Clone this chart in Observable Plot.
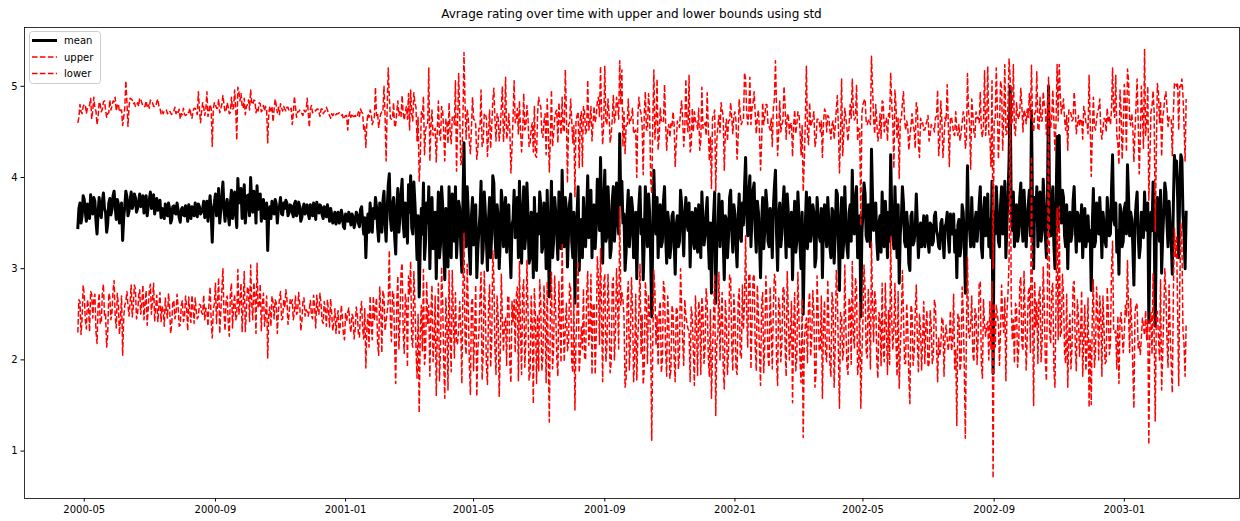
<!DOCTYPE html>
<html>
<head>
<meta charset="utf-8">
<script src="https://cdn.jsdelivr.net/npm/d3@7"></script>
<script src="https://cdn.jsdelivr.net/npm/@observablehq/plot@0.6"></script>
<style>
  body { margin: 0; background: #fff; font-family: "DejaVu Sans", sans-serif; }
  #wrap { position: relative; width: 1240px; height: 521px; overflow: hidden; }
  #title { position: absolute; left: 24px; width: 1215px; top: 7px; text-align: center; font-size: 12px; line-height: 14px; color: #000; }
  #legend { position: absolute; left: 29px; top: 31px; }
</style>
</head>
<body>
<div id="wrap">
  <div id="chart"></div>
  <div id="title">Avrage rating over time with upper and lower bounds using std</div>
  <svg id="legend" width="73" height="54"></svg>
</div>
<script>
// ---- data (values ×100, one point per day from 2000-04-25) ----
const startDate = "2000-04-25";
const stepDays = 1;

const meanRating = [
  345,366,372,350,358,380,376,362,352,371,368,355,381,368,360,378,374,352,338,362,
  378,360,356,374,383,366,362,340,349,372,377,359,365,380,385,368,354,376,371,350,
  360,372,331,356,368,385,379,358,363,375,384,366,370,382,378,362,366,374,382,368,
  372,380,361,370,380,358,369,376,384,366,374,381,360,368,377,364,368,375,356,366,
  362,355,371,364,358,372,366,350,354,368,369,361,360,372,364,356,351,365,367,359,
  358,369,363,352,370,364,355,368,365,358,372,363,357,371,368,360,362,366,374,356,
  366,374,352,368,380,360,329,365,372,382,358,370,388,350,364,378,395,366,352,370,
  376,359,348,372,386,355,368,384,360,345,399,372,374,388,355,368,392,350,366,380,
  381,358,400,372,362,385,378,350,391,365,370,382,352,368,376,355,364,372,320,360,
  368,355,374,362,360,376,371,350,365,368,378,360,359,372,366,375,372,358,361,370,
  369,362,357,371,374,358,362,373,368,352,356,366,371,360,364,370,360,355,370,364,
  358,372,366,354,373,365,361,370,368,359,355,368,364,357,370,362,352,366,360,350,
  356,362,349,358,362,350,353,364,358,346,344,360,355,352,362,355,348,360,357,345,
  351,362,359,350,346,365,368,352,338,356,312,348,360,340,372,355,340,366,355,378,
  368,345,330,372,362,340,374,385,350,330,365,392,404,355,342,370,378,335,316,368,
  388,340,358,382,398,350,335,372,370,328,392,362,402,345,338,395,372,345,310,358,
  269,324,366,338,394,310,330,372,350,390,300,354,378,322,336,362,289,342,384,312,
  326,390,370,324,288,366,350,302,390,338,312,382,358,330,390,312,338,374,366,324,
  296,372,438,350,324,390,362,318,294,358,378,326,348,370,290,322,342,360,396,306,
  322,384,362,330,298,354,378,312,338,402,394,338,312,370,358,300,330,386,372,324,
  350,378,318,360,370,324,290,348,354,386,334,366,378,312,396,342,306,362,390,322,
  338,394,360,306,312,362,348,290,378,336,298,360,338,384,370,318,324,372,358,300,
  386,330,269,350,396,312,330,378,362,338,310,384,350,322,408,348,324,378,366,302,
  338,372,382,330,312,362,262,342,360,390,298,336,354,312,378,338,324,362,402,334,
  346,386,312,360,370,322,348,398,390,342,422,358,306,372,408,330,336,390,362,312,
  322,374,390,330,348,394,372,338,448,370,396,350,360,298,318,362,386,324,342,378,
  366,312,326,362,289,348,370,390,338,354,288,330,390,360,324,382,362,312,247,342,
  408,358,338,378,312,350,370,324,330,374,390,336,306,362,350,312,324,358,362,330,
  294,348,358,324,330,386,372,342,314,360,378,350,342,372,302,346,362,330,322,366,
  348,318,370,342,312,384,354,326,336,362,378,330,300,350,273,338,358,384,262,330,
  342,382,324,362,374,330,288,358,354,312,336,378,386,342,318,370,360,326,302,354,
  382,336,330,372,348,390,422,362,336,382,402,324,358,386,394,342,318,374,362,330,
  290,350,378,322,342,386,370,330,324,366,350,312,366,390,408,338,298,358,372,324,
  338,370,390,348,312,382,362,324,342,362,288,346,374,318,330,384,358,326,300,362,
  250,318,350,384,322,348,378,330,342,370,362,302,312,378,358,336,330,366,290,350,
  370,338,324,378,354,324,312,366,362,306,336,386,382,330,276,350,378,312,330,390,
  350,324,312,362,370,330,408,350,338,378,390,312,324,358,247,338,362,394,382,336,
  330,370,354,324,431,378,342,362,372,330,310,350,358,318,384,346,324,374,350,312,
  362,330,425,362,336,322,390,348,312,370,284,338,354,390,372,330,324,362,346,306,
  298,358,362,326,330,342,382,350,312,336,350,324,342,358,324,348,358,330,318,350,
  348,326,330,358,362,342,336,324,322,350,354,334,312,346,350,362,334,318,360,338,
  338,360,318,342,290,348,354,314,324,370,362,330,273,336,413,350,342,324,378,338,
  324,350,362,330,346,372,390,324,312,362,378,336,350,382,324,354,312,396,185,362,
  338,390,362,330,324,370,390,338,348,396,312,350,378,420,500,362,342,384,324,354,
  370,330,338,378,394,348,330,386,360,324,350,370,386,336,473,358,300,378,354,390,
  324,362,384,330,342,398,370,336,312,378,500,350,336,372,390,326,300,362,445,342,
  446,358,350,386,378,336,324,370,300,350,362,330,338,374,390,348,318,362,358,330,
  346,370,312,350,366,324,336,358,330,342,276,348,388,324,330,372,362,338,378,350,
  312,362,350,330,324,378,358,336,338,386,425,354,348,372,318,342,294,370,362,324,
  330,366,372,338,414,378,336,362,354,324,282,350,370,384,338,312,324,362,358,334,
  384,350,342,372,241,330,362,342,395,350,237,336,378,360,330,386,295,336,362,394,
  384,350,324,374,348,330,294,370,424,408,418,378,312,390,425,420,360,338,300,362
];

const stdRating = [
  115,100,108,122,112,98,104,118,118,105,110,124,106,96,114,110,102,121,120,104,
  105,120,116,101,100,118,112,126,121,99,108,115,113,104,98,120,119,103,110,122,
  114,102,126,110,108,121,104,98,115,112,102,119,111,100,100,117,116,104,105,118,
  110,98,117,108,104,120,112,100,101,116,108,97,118,110,106,122,110,101,114,107,
  108,118,103,110,112,99,107,121,115,104,104,116,110,100,106,119,113,105,102,117,
  111,99,106,120,101,112,114,97,108,118,104,109,112,123,107,100,110,116,103,112,
  109,120,115,104,100,116,105,110,110,98,118,106,98,121,112,102,95,114,120,103,
  106,118,122,99,102,120,108,112,116,96,100,122,110,104,124,108,95,119,112,100,
  104,116,96,110,118,100,106,121,85,108,112,99,120,106,103,118,114,102,118,110,
  110,118,104,99,115,110,108,121,112,101,103,116,114,106,109,98,105,119,112,104,
  107,96,113,118,104,108,110,99,106,120,114,102,103,112,109,117,112,100,105,115,
  113,101,108,119,102,110,111,97,107,116,115,104,109,120,104,108,116,99,110,118,
  114,106,120,112,108,121,116,104,111,118,122,108,113,100,105,117,118,110,110,122,
  117,104,108,122,121,110,104,118,115,100,121,112,110,126,102,115,118,96,112,121,
  100,126,125,92,108,132,98,115,118,88,112,128,84,110,122,95,104,120,142,104,
  96,128,114,85,92,120,128,100,108,136,100,90,94,125,124,98,110,132,130,108,
  127,95,106,128,95,115,122,86,110,130,118,102,96,124,115,92,128,110,100,135,
  115,88,104,126,130,98,110,135,92,112,125,84,108,128,116,95,120,140,102,90,
  122,92,99,130,118,85,104,122,132,96,110,138,115,88,130,110,112,94,100,128,
  116,86,108,135,125,95,96,120,118,82,104,126,128,100,110,140,122,92,128,115,
  108,132,124,90,100,128,115,84,112,120,126,96,98,135,88,110,122,86,102,130,
  118,85,105,128,126,92,112,138,100,88,124,110,150,96,108,130,120,90,112,125,
  100,124,137,94,100,122,118,86,110,136,128,98,112,125,80,104,126,140,104,92,
  120,88,104,132,126,95,117,120,108,82,112,128,118,100,100,135,124,90,105,118,
  115,92,128,100,108,138,120,85,98,125,100,110,130,88,114,132,122,96,108,126,
  125,90,100,130,118,94,108,126,80,110,122,84,112,128,139,96,100,135,120,88,
  110,136,125,90,111,122,118,85,132,104,115,140,104,92,128,110,112,86,135,120,
  110,84,122,130,118,95,106,138,130,88,112,124,124,92,108,132,135,98,110,128,
  118,90,104,134,125,86,112,122,120,94,130,110,108,140,126,88,114,120,150,96,
  112,135,106,88,128,115,100,130,124,84,115,126,118,95,115,128,110,90,123,110,
  115,86,125,120,100,138,120,92,110,128,126,85,96,124,130,98,112,136,118,90,
  104,132,128,90,115,125,86,110,122,88,108,134,118,96,100,128,130,92,112,120,
  118,88,104,136,125,94,110,128,132,86,115,122,110,96,120,138,126,90,112,126,
  120,92,110,132,130,85,108,124,116,98,135,110,100,130,128,88,112,126,125,95,
  135,100,112,138,125,88,104,126,118,94,110,132,128,86,106,125,120,96,132,110,
  105,134,126,90,112,128,130,92,100,136,120,88,108,124,129,98,130,112,118,86,
  115,130,128,94,110,135,100,122,125,88,112,128,130,95,100,132,118,90,104,126,
  128,92,110,134,102,120,122,86,108,130,130,98,112,125,100,136,126,90,115,128,
  108,135,90,118,125,88,106,130,130,95,115,126,110,92,122,134,128,100,110,124,
  146,98,108,132,122,90,100,128,125,86,115,135,118,94,128,110,104,138,122,96,
  110,130,126,92,104,125,160,100,118,134,108,88,130,120,112,140,124,94,106,128,
  120,88,128,130,162,98,104,126,125,90,110,138,159,105,101,122,118,85,108,132,
  126,94,110,135,120,88,104,128,132,96,139,110,112,140,124,90,100,110,115,100,
  124,130,112,90,130,136,108,92,118,128,135,98,104,110,10,96,120,140,128,92,
  112,138,126,94,104,130,120,88,110,135,125,96,106,128,50,104,150,92,118,126,
  128,90,104,132,120,96,110,138,135,100,10,120,118,94,106,136,130,98,79,120,
  78,132,120,92,108,128,128,98,130,124,112,140,124,90,104,130,130,96,110,126,
  118,94,130,128,106,136,125,90,182,120,125,98,100,132,122,92,110,138,108,100,
  130,92,115,134,126,98,104,130,120,88,95,120,118,140,128,94,120,126,110,96,
  122,136,112,90,105,128,128,95,116,132,135,100,108,124,125,92,118,138,112,98,
  157,96,120,128,134,92,110,136,100,122,104,90,125,134,130,98,128,130,112,94,
  110,128,132,92,118,135,130,100,80,95,82,126,140,110,75,88,130,120,118,124
];

const xTickLabels = ["2000-05", "2000-09", "2001-01", "2001-05", "2001-09", "2002-01", "2002-05", "2002-09", "2003-01"];
const yTickValues = [1, 2, 3, 4, 5];
const xDomain = ["2000-03-06", "2003-04-19"];
const yDomain = [0.48, 5.645];
const seriesNames = ["mean", "upper", "lower"];

// ---- build table ----
const start = new Date(startDate + "T00:00:00Z");
const n = Math.min(meanRating.length, stdRating.length);
const rows = meanRating.slice(0, n).map((m, i) => ({
  date: d3.utcDay.offset(start, i * stepDays),
  mean: m / 100,
  upper: (m + stdRating[i]) / 100,
  lower: (m - stdRating[i]) / 100
}));
const xTicks = xTickLabels.map(s => new Date(s + "-01T00:00:00Z"));

const chart = Plot.plot({
  width: 1240,
  height: 521,
  marginLeft: 24,
  marginRight: 1,
  marginTop: 27,
  marginBottom: 23,
  style: { fontFamily: "DejaVu Sans", fontSize: "10px", color: "#000", background: "#fff" },
  x: { type: "utc", domain: xDomain.map(s => new Date(s + "T00:00:00Z")) },
  y: { domain: yDomain },
  marks: [
    Plot.line(rows, { x: "date", y: "mean", stroke: "black", strokeWidth: 3, strokeLinejoin: "round", strokeLinecap: "square" }),
    Plot.line(rows, { x: "date", y: "upper", stroke: "#ff0000", strokeWidth: 1.5, strokeDasharray: "5.55,2.4", strokeLinecap: "butt", strokeLinejoin: "round" }),
    Plot.line(rows, { x: "date", y: "lower", stroke: "#ff0000", strokeWidth: 1.5, strokeDasharray: "5.55,2.4", strokeLinecap: "butt", strokeLinejoin: "round" }),
    Plot.frame({ stroke: "#000", strokeWidth: 0.8 }),
    Plot.axisX({ ticks: xTicks, tickFormat: d3.utcFormat("%Y-%m"), tickSize: 3.5, tickPadding: 3.5, label: null, fontSize: 10 }),
    Plot.axisY({ ticks: yTickValues, tickFormat: d => String(d), tickSize: 3.5, tickPadding: 3.5, label: null, fontSize: 10 })
  ]
});
document.getElementById("chart").appendChild(chart);

// ---- legend (matplotlib style, upper left) ----
const lg = d3.select("#legend");
lg.append("rect").attr("x", 0.5).attr("y", 0.5).attr("width", 71).attr("height", 52).attr("rx", 3)
  .attr("fill", "#fff").attr("fill-opacity", 0.8).attr("stroke", "#cccccc");
const legendStyles = [
  { stroke: "black", width: 3, dash: null },
  { stroke: "#ff0000", width: 1.5, dash: "5.55,2.4" },
  { stroke: "#ff0000", width: 1.5, dash: "5.55,2.4" }
];
seriesNames.forEach((name, i) => {
  const cy = 9.5 + i * 16.5;
  const st = legendStyles[i];
  const ln = lg.append("line").attr("x1", 3).attr("x2", 28).attr("y1", cy).attr("y2", cy)
    .attr("stroke", st.stroke).attr("stroke-width", st.width);
  if (st.dash) ln.attr("stroke-dasharray", st.dash);
  lg.append("text").attr("x", 35).attr("y", cy + 3.6).attr("font-family", "DejaVu Sans")
    .attr("font-size", 10).attr("fill", "#000").text(name);
});
</script>
</body>
</html>
